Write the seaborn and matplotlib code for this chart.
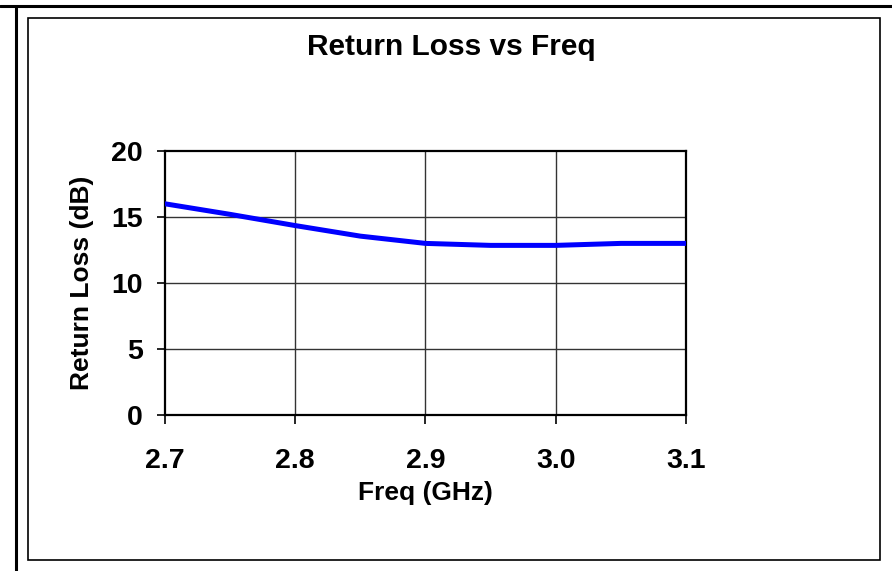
import numpy as np
import pandas as pd
import matplotlib
matplotlib.use("Agg")
import matplotlib.pyplot as plt
import seaborn as sns
from matplotlib.patches import Rectangle
from matplotlib.lines import Line2D

# values
freq_ghz = [2.70, 2.75, 2.80, 2.85, 2.90, 2.95, 3.00, 3.05, 3.10]
return_loss_db = [16.0, 15.2, 14.35, 13.55, 13.0, 12.85, 12.85, 13.0, 13.0]
x_ticks = [2.7, 2.8, 2.9, 3.0, 3.1]
x_tick_labels = ["2.7", "2.8", "2.9", "3.0", "3.1"]
y_ticks = [0, 5, 10, 15, 20]

df = pd.DataFrame({"freq": freq_ghz, "rl": return_loss_db})

sns.set_style("white")
plt.rcParams['font.family'] = ['Liberation Sans', 'DejaVu Sans']
plt.rcParams['font.weight'] = 'bold'
plt.rcParams['text.color'] = 'black'
plt.rcParams['axes.labelcolor'] = 'black'
plt.rcParams['xtick.color'] = 'black'
plt.rcParams['ytick.color'] = 'black'

fig = plt.figure(figsize=(8.92, 5.71), dpi=100)
ax = fig.add_axes([165 / 892, 1 - 415 / 571, (686 - 165) / 892, (415 - 151) / 571])

# grid lines (inner only, edges are spines)
for xv in x_ticks[1:-1]:
    ax.axvline(xv, color="#333333", lw=1.0, zorder=1)
for yv in y_ticks[1:-1]:
    ax.axhline(yv, color="#333333", lw=1.0, zorder=1)

sns.lineplot(data=df, x="freq", y="rl", ax=ax, color="#0000FF", linewidth=3.6, zorder=3)

ax.set_xlim(2.7, 3.1)
ax.set_ylim(0, 20)
ax.set_xticks(x_ticks)
ax.set_xticklabels(x_tick_labels)
ax.set_yticks(y_ticks)
ax.tick_params(axis="x", direction="out", length=6.5, width=1.2, colors="black",
               labelsize=20.5, pad=17, bottom=True)
ax.tick_params(axis="y", direction="out", length=6, width=1.2, colors="black",
               labelsize=20.5, pad=10, left=True)
for lab in ax.get_xticklabels() + ax.get_yticklabels():
    lab.set_fontweight("bold")

for s in ax.spines.values():
    s.set_visible(True)
    s.set_color("black")
    s.set_linewidth(1.6)

ax.set_xlabel("Freq (GHz)", fontsize=19, fontweight="bold", labelpad=5, color="black")
ax.set_ylabel("Return Loss (dB)", fontsize=19, fontweight="bold", labelpad=12, color="black")

fig.text(451 / 892, 1 - 47 / 571, "Return Loss vs Freq", ha="center", va="center",
         fontsize=21.5, fontweight="bold", color="black")

# chart frame and page lines
fig.patches.append(Rectangle((28 / 892, 1 - 560 / 571), (880 - 28) / 892, (560 - 18) / 571,
                             transform=fig.transFigure, fill=False, edgecolor="black",
                             linewidth=1.2, zorder=0))
fig.lines.append(Line2D([0, 1], [1 - 6 / 571, 1 - 6 / 571], transform=fig.transFigure,
                        color="black", linewidth=2.2))
fig.lines.append(Line2D([16 / 892, 16 / 892], [0, 1 - 6 / 571], transform=fig.transFigure,
                        color="black", linewidth=2.2))

fig.savefig("out.png", dpi=100, facecolor="white")
